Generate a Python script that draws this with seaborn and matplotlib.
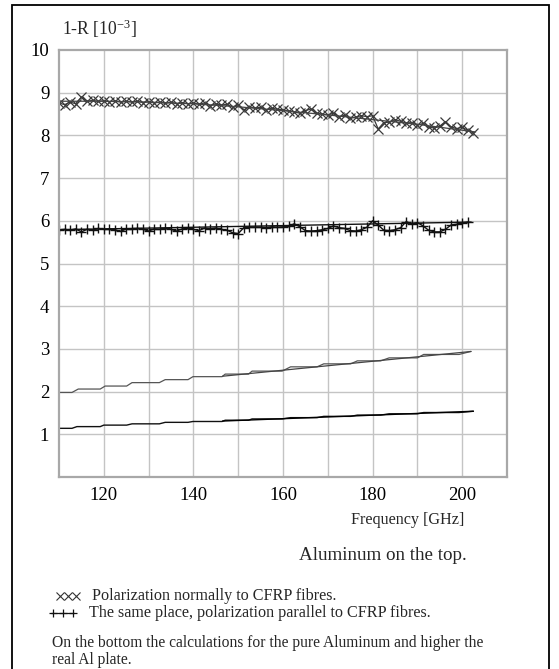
import numpy as np
import pandas as pd
import matplotlib
matplotlib.use("Agg")
import matplotlib.pyplot as plt
from matplotlib.lines import Line2D
from matplotlib.patches import Rectangle
import seaborn as sns

# ---------------- data ----------------
freq_normal = [110.0, 111.25, 112.5, 113.75, 115.0, 116.25, 117.5, 118.75, 120.0, 121.25,
               122.5, 123.75, 125.0, 126.25, 127.5, 128.75, 130.0, 131.25, 132.5, 133.75,
               135.0, 136.25, 137.5, 138.75, 140.0, 141.25, 142.5, 143.75, 145.0, 146.25,
               147.5, 148.75, 150.0, 151.25, 152.5, 153.75, 155.0, 156.25, 157.5, 158.75,
               160.0, 161.25, 162.5, 163.75, 165.0, 166.25, 167.5, 168.75, 170.0, 171.25,
               172.5, 173.75, 175.0, 176.25, 177.5, 178.75, 180.0, 181.25, 182.5, 183.75,
               185.0, 186.25, 187.5, 188.75, 190.0, 191.25, 192.5, 193.75, 195.0, 196.25,
               197.5, 198.75, 200.0, 201.25, 202.5]
val_normal = [8.76, 8.72, 8.78, 8.74, 8.90, 8.80, 8.82, 8.80, 8.81, 8.79,
              8.81, 8.78, 8.80, 8.78, 8.80, 8.77, 8.79, 8.76, 8.78, 8.75,
              8.78, 8.74, 8.77, 8.74, 8.76, 8.73, 8.76, 8.70, 8.74, 8.71,
              8.73, 8.66, 8.72, 8.60, 8.67, 8.64, 8.66, 8.60, 8.64, 8.61,
              8.60, 8.57, 8.55, 8.52, 8.58, 8.62, 8.52, 8.50, 8.48, 8.52,
              8.44, 8.47, 8.40, 8.43, 8.46, 8.44, 8.46, 8.15, 8.30, 8.31,
              8.37, 8.33, 8.29, 8.30, 8.24, 8.28, 8.20, 8.17, 8.22, 8.32,
              8.20, 8.16, 8.19, 8.12, 8.06]
fit_normal_f = [110, 120, 130, 140, 150, 160, 170, 180, 190, 203]
fit_normal_v = [8.80, 8.80, 8.78, 8.74, 8.67, 8.58, 8.48, 8.37, 8.26, 8.08]

freq_parallel = [110.0, 111.25, 112.5, 113.75, 115.0, 116.25, 117.5, 118.75, 120.0, 121.25,
                 122.5, 123.75, 125.0, 126.25, 127.5, 128.75, 130.0, 131.25, 132.5, 133.75,
                 135.0, 136.25, 137.5, 138.75, 140.0, 141.25, 142.5, 143.75, 145.0, 146.25,
                 147.5, 148.75, 150.0, 151.25, 152.5, 153.75, 155.0, 156.25, 157.5, 158.75,
                 160.0, 161.25, 162.5, 163.75, 165.0, 166.25, 167.5, 168.75, 170.0, 171.25,
                 172.5, 173.75, 175.0, 176.25, 177.5, 178.75, 180.0, 181.25, 182.5, 183.75,
                 185.0, 186.25, 187.5, 188.75, 190.0, 191.25, 192.5, 193.75, 195.0, 196.25,
                 197.5, 198.75, 200.0, 201.25]
val_parallel = [5.79, 5.80, 5.78, 5.81, 5.74, 5.80, 5.79, 5.82, 5.80, 5.81,
                5.79, 5.75, 5.81, 5.80, 5.82, 5.80, 5.76, 5.81, 5.80, 5.82,
                5.80, 5.76, 5.81, 5.82, 5.80, 5.77, 5.83, 5.81, 5.83, 5.80,
                5.78, 5.72, 5.70, 5.84, 5.85, 5.85, 5.85, 5.84, 5.86, 5.85,
                5.86, 5.87, 5.93, 5.86, 5.77, 5.76, 5.77, 5.79, 5.82, 5.88,
                5.84, 5.82, 5.77, 5.76, 5.79, 5.85, 6.00, 5.90, 5.78, 5.77,
                5.79, 5.84, 5.98, 5.93, 5.96, 5.88, 5.78, 5.74, 5.74, 5.80,
                5.90, 5.92, 5.94, 5.97]
fit_parallel_f = [110, 202]
fit_parallel_v = [5.79, 5.97]

real_al_f = [110.0, 112.9, 114.3, 119.2, 120.3, 125.1, 126.3, 132.4, 133.7, 138.8,
             139.9, 146.4, 147.1, 152.3, 153.1, 159.8, 161.7, 167.6, 169.1, 175.1,
             176.6, 181.8, 183.7, 190.0, 191.4, 199.3, 201.9]
real_al_v = [1.98, 1.98, 2.06, 2.06, 2.13, 2.13, 2.21, 2.21, 2.28, 2.28,
             2.35, 2.35, 2.41, 2.41, 2.48, 2.48, 2.58, 2.58, 2.65, 2.65,
             2.72, 2.72, 2.79, 2.79, 2.87, 2.87, 2.94]
real_al_fit_f = [146.5, 202.0]
real_al_fit_v = [2.36, 2.94]

pure_al_f = [110.0, 112.9, 114.0, 119.2, 120.0, 125.1, 126.3, 132.4, 133.7, 138.8,
             139.9, 146.4, 147.1, 152.3, 153.1, 159.8, 161.7, 167.6, 169.1, 175.1,
             176.6, 181.8, 183.7, 190.0, 191.4, 199.3, 202.5]
pure_al_v = [1.14, 1.14, 1.18, 1.18, 1.215, 1.215, 1.245, 1.245, 1.28, 1.28,
             1.30, 1.30, 1.33, 1.33, 1.36, 1.36, 1.39, 1.39, 1.42, 1.42,
             1.45, 1.45, 1.48, 1.48, 1.51, 1.51, 1.54]
pure_al_fit_f = [146.5, 202.5]
pure_al_fit_v = [1.31, 1.54]

x_ticks = [120, 140, 160, 180, 200]
y_ticks = [1, 2, 3, 4, 5, 6, 7, 8, 9, 10]

# ---------------- style ----------------
sns.set_theme(style="white")
plt.rcParams['font.family'] = ['Liberation Serif', 'DejaVu Serif']
plt.rcParams['mathtext.default'] = 'regular'

W, H = 559, 669
fig = plt.figure(figsize=(W / 100, H / 100), dpi=100)
fig.patch.set_facecolor('white')

# outer frame
fig.add_artist(Rectangle((12 / W, 1 - 669 / H - 0.01), (549 - 12) / W, (669 - 5) / H + 0.01,
                         transform=fig.transFigure, fill=False, edgecolor='black', linewidth=1.3))

ax_l, ax_r, ax_t, ax_b = 59, 507, 50, 477
ax = fig.add_axes([ax_l / W, 1 - ax_b / H, (ax_r - ax_l) / W, (ax_b - ax_t) / H])

grid_c = '#c4c4c4'
for gx in range(120, 210, 10):
    ax.axvline(gx, color=grid_c, lw=1.0, zorder=0)
for gy in range(1, 10):
    ax.axhline(gy, color=grid_c, lw=1.0, zorder=0)

# calculated curves
sns.lineplot(x=real_al_f, y=real_al_v, ax=ax, color='#555555', lw=0.9, estimator=None, sort=False)
sns.lineplot(x=real_al_fit_f, y=real_al_fit_v, ax=ax, color='#444444', lw=0.9, estimator=None, sort=False)
sns.lineplot(x=pure_al_f, y=pure_al_v, ax=ax, color='#111111', lw=1.0, estimator=None, sort=False)
sns.lineplot(x=pure_al_fit_f, y=pure_al_fit_v, ax=ax, color='#000000', lw=1.0, estimator=None, sort=False)

# measured curves
df_n = pd.DataFrame({'f': freq_normal, 'v': val_normal})
df_p = pd.DataFrame({'f': freq_parallel, 'v': val_parallel})
sns.lineplot(data=df_n, x='f', y='v', ax=ax, color='#3a3a3a', lw=0.9, marker='x',
             markersize=6.5, markeredgewidth=0.9, markeredgecolor='#3a3a3a',
             estimator=None, sort=False)
sns.lineplot(x=fit_normal_f, y=fit_normal_v, ax=ax, color='#444444', lw=0.9, estimator=None, sort=False)
sns.lineplot(data=df_p, x='f', y='v', ax=ax, color='#111111', lw=1.0, marker='+',
             markersize=7, markeredgewidth=1.0, markeredgecolor='#111111',
             estimator=None, sort=False)
sns.lineplot(x=fit_parallel_f, y=fit_parallel_v, ax=ax, color='#111111', lw=1.0, estimator=None, sort=False)

ax.set_xlim(110, 210)
ax.set_ylim(0, 10)
ax.set_xticks(x_ticks)
ax.set_yticks(y_ticks)
ax.set_xticklabels([str(t) for t in x_ticks])
ax.set_yticklabels([str(t) for t in y_ticks])
ax.tick_params(axis='both', length=0, labelsize=13.5, colors='black')
ax.tick_params(axis='x', pad=7)
ax.tick_params(axis='y', pad=7)
ax.set_xlabel('')
ax.set_ylabel('')
for s in ax.spines.values():
    s.set_color('#a8a8a8')
    s.set_linewidth(1.6)
ax.grid(False)

# texts
fig.text(62 / W, 1 - 29 / H, '1-R [10$^{-3}$]', fontsize=12.7, ha='left', va='center')
fig.text(408 / W, 1 - 520 / H, 'Frequency [GHz]', fontsize=11.6, ha='center', va='center')
fig.text(383 / W, 1 - 555 / H, 'Aluminum on the top.', fontsize=13.7, ha='center', va='center')

# legend symbols
fig.add_artist(Line2D([60 / W, 68 / W, 76 / W], [1 - 596 / H] * 3, transform=fig.transFigure,
                      linestyle='none', marker='x', markersize=5.5, markeredgewidth=0.8, color='#333333'))
fig.add_artist(Line2D([51 / W, 74 / W], [1 - 613 / H] * 2, transform=fig.transFigure,
                      lw=0.9, color='#111111'))
fig.add_artist(Line2D([53 / W, 63 / W, 73 / W], [1 - 613 / H] * 3, transform=fig.transFigure,
                      linestyle='none', marker='+', markersize=6, markeredgewidth=0.9, color='#111111'))
fig.text(92 / W, 1 - 596 / H, 'Polarization normally to CFRP fibres.', fontsize=11.6, ha='left', va='center')
fig.text(89 / W, 1 - 613 / H, 'The same place, polarization parallel to CFRP fibres.', fontsize=11.6,
         ha='left', va='center')
fig.text(52 / W, 1 - 643 / H, 'On the bottom the calculations for the pure Aluminum and higher the',
         fontsize=11.2, ha='left', va='center')
fig.text(52 / W, 1 - 660 / H, 'real Al plate.', fontsize=11.2, ha='left', va='center')

fig.savefig('out.png', dpi=100, facecolor='white')
